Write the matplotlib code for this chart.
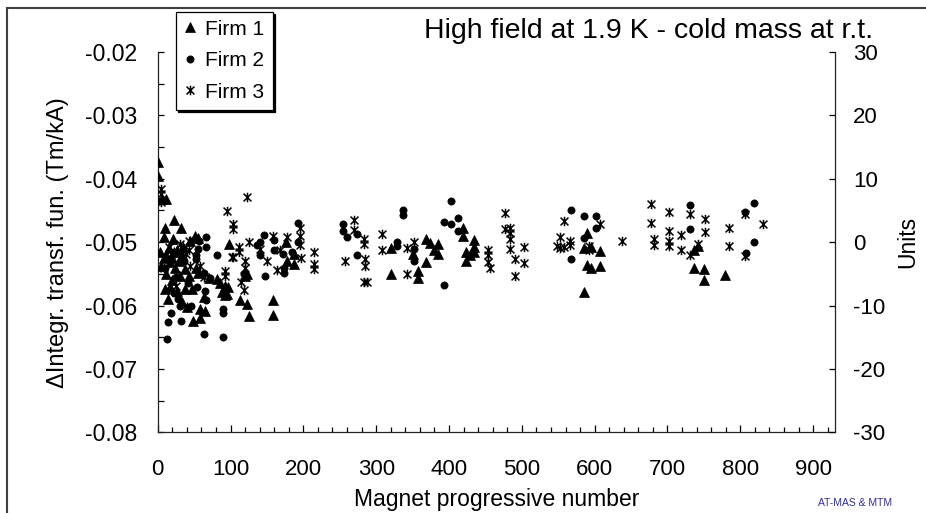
import numpy as np
import matplotlib
matplotlib.use("Agg")
import matplotlib.pyplot as plt
from matplotlib.path import Path
from matplotlib.lines import Line2D
from matplotlib.ticker import MultipleLocator

plt.rcParams['font.family'] = ['Liberation Sans', 'DejaVu Sans']
plt.rcParams['axes.unicode_minus'] = False

# magnet number / deviation in units (1 unit = 0.001 Tm/kA, 0 = -0.05)
firm1_num = [1, 1, 6, 11, 10, 22, 32, 9, 21, 51, 56, 45, 98,
             3, 5, 8, 12, 15, 17, 20, 22, 24, 27, 29, 33, 35, 38, 12, 30, 43, 52, 56, 70, 81, 93,
             10, 17, 26, 38, 47, 63, 88, 95, 40, 58, 65, 49, 58, 93, 20, 14, 33, 86, 97,
             120, 122, 176, 187, 187, 178, 113, 123, 158, 125, 158,
             320, 320, 351, 357, 357, 369, 374, 385, 380, 385, 369, 419, 419, 434, 434, 434, 424, 424, 429,
             589, 586, 595, 608, 590, 595, 608, 586,
             736, 742, 736, 750, 750, 779]
firm1_units = [12.6, 10.5, 6.8, 6.8, 2.3, 3.5, 2.2, 0.8, 0.5, 0.9, 0.6, 0.2, -0.3,
               -1.5, -3.7, -2.5, -2.0, -1.0, -3.2, -2.5, -1.5, -4.0, -1.3, -3.0, -2.1, -0.8, -4.2, -5.0, -5.3, -5.3, -4.0, -4.8, -5.6, -5.8, -6.9,
               -7.4, -7.1, -7.7, -7.4, -7.4, -8.7, -7.9, -8.2, -10.3, -10.6, -10.8, -12.4, -11.9, -8.4, -6.0, -9.0, -9.5, -6.5, -7.0,
               -5.3, -5.0, 0.0, -1.9, -3.4, -2.9, -9.1, -9.7, -9.2, -11.6, -11.5,
               -1.0, -5.0, -1.9, -4.5, -5.7, 0.5, -0.1, -0.3, -1.3, -1.9, -3.1, 2.2, 0.9, 0.4, -0.7, -1.6, -1.6, -2.9, -2.0,
               1.45, -1.0, -0.8, -1.45, -3.6, -4.1, -3.7, -7.8,
               -1.2, -0.55, -4.1, -4.2, -6.0, -5.2]

firm2_num = [3, 57, 66, 66, 55, 82, 52, 52, 63, 72, 54, 65, 67, 31, 46, 90, 90, 18, 14, 32, 13, 63, 90,
             28, 22, 41, 10, 36, 25,
             146, 141, 141, 147, 160, 160, 172, 173, 174, 193, 193, 185, 254, 255, 260, 274, 274, 118, 136,
             337, 337, 329, 329, 352, 352, 403, 393, 403, 412, 412, 393,
             568, 585, 602, 602, 585, 568,
             731, 731, 819, 807, 819, 808]
firm2_units = [6.5, 0.2, 0.8, -0.7, -1.1, -2.0, -2.1, -2.7, -4.8, -5.7, -7.1, -7.7, -9.2, -10.0, -10.0, -10.6, -11.1, -11.1, -12.6, -12.4, -15.3, -14.5, -15.0,
               -9.0, -8.0, -6.5, -4.0, -3.0, -5.5,
               1.2, 0.0, -2.1, -5.3, 0.35, -1.3, -1.8, -4.1, -4.9, 3.0, 0.0, -1.6, 2.9, 1.8, 0.8, 1.3, -2.0, -5.0, -0.5,
               5.0, 4.3, 0.1, -0.55, -1.1, -2.9, 6.5, 3.2, 2.9, 3.8, 1.8, -6.8,
               5.0, 4.2, 4.1, 2.3, 0.6, -2.7,
               5.9, 2.1, 6.2, 4.8, 0.0, -1.7]

firm3_num = [4, 4, 4, 95, 103, 103, 43, 18, 43, 31, 45, 58, 93, 93, 102, 25, 15, 8, 39, 63,
             123, 111, 111, 126, 104, 120, 120, 118, 114, 118, 159, 140, 150, 164, 177, 168, 195, 195, 195, 197,
             215, 214, 214, 269, 269, 257, 283, 283, 285, 285, 283, 288,
             308, 308, 342, 342, 352, 454, 454, 454, 456, 477, 477, 484, 484, 484, 484, 491, 491, 503, 503,
             558, 552, 548, 553, 558, 566, 566, 592, 592, 607, 637, 677, 677, 681, 681, 702, 702, 702, 702,
             731, 751, 719, 751, 719, 742, 731, 785, 785, 806, 831, 806]
firm3_units = [8.4, 7.6, 6.3, 4.9, 2.9, 2.0, 0.2, -1.9, -1.3, -0.3, -3.7, -3.7, -4.5, -5.3, -2.4, -6.9, -0.8, -4.0, -1.8, -5.5,
               7.1, -0.8, -1.6, 0.0, -2.3, -2.9, -4.0, -5.4, -6.3, -7.5, 0.9, -1.1, -2.9, -4.4, 0.8, -1.3, 2.3, 1.0, -0.5, -2.5,
               -1.6, -3.4, -4.2, 3.5, 1.9, -3.0, 0.5, -0.3, -2.7, -3.7, -6.3, -6.3,
               1.3, -1.2, -1.0, -5.0, 0.0, -1.2, -2.1, -3.1, -4.0, 4.6, 2.1, 2.3, 1.5, 0.5, -1.1, -2.6, -5.3, -0.8, -3.3,
               3.4, 0.8, -0.6, -1.0, -0.7, 0.2, -0.45, -0.55, -1.2, 2.9, 0.2, 6.0, 3.0, 0.5, -0.45, 4.8, 1.8, 0.2, -0.55,
               4.45, 3.65, 1.1, 1.55, -1.2, -0.3, -2.0, 2.2, -0.65, 4.45, 2.8, -2.2]

W, H = 926, 513
star = Path([(-1, -1), (1, 1), (-1, 1), (1, -1), (0, -1.2), (0, 1.2)],
            [Path.MOVETO, Path.LINETO, Path.MOVETO, Path.LINETO, Path.MOVETO, Path.LINETO])

fig = plt.figure(figsize=(W / 100, H / 100), dpi=100)
x0, x1, y0, y1 = 157.7, 835, 52, 432.3
ax = fig.add_axes([x0 / W, 1 - y1 / H, (x1 - x0) / W, (y1 - y0) / H])
ax.set_xlim(0, 930)
ax.set_ylim(-0.08, -0.02)
ax2 = ax.twinx()
ax2.set_ylim(-30, 30)

for a in (ax, ax2):
    a.spines['top'].set_visible(False)
    for s in a.spines.values():
        s.set_linewidth(0.9)
        s.set_color('#222222')
ax.spines['right'].set_visible(False)
ax2.spines['left'].set_visible(False)
ax2.spines['bottom'].set_visible(False)

ax.xaxis.set_major_locator(MultipleLocator(100))
ax.xaxis.set_minor_locator(MultipleLocator(20))
ax.yaxis.set_major_locator(MultipleLocator(0.01))
ax.yaxis.set_minor_locator(MultipleLocator(0.005))
ax2.yaxis.set_major_locator(MultipleLocator(10))
ax.tick_params(axis='x', which='major', direction='in', length=5, width=0.9, labelsize=16, pad=19)
ax.tick_params(axis='x', which='minor', direction='in', length=3.5, width=0.9)
ax.tick_params(axis='y', which='both', direction='in', length=4.5, width=0.9, labelsize=16.5, pad=15)
ax2.tick_params(axis='y', direction='in', length=4.5, width=0.9, labelsize=16, pad=13)
ax.yaxis.set_major_formatter(plt.FuncFormatter(lambda v, p: '%.2f' % v))

ax2.plot(firm1_num, firm1_units, ls='none', marker='^', ms=6.5, color='black', mec='black', mew=0.5, label='Firm 1')
ax2.plot(firm2_num, firm2_units, ls='none', marker='o', ms=5.2, color='black', mec='black', mew=0.5, label='Firm 2')
ax2.plot(firm3_num, firm3_units, ls='none', marker=star, ms=6.8, mfc='none', mec='black', mew=1.1, label='Firm 3')

ax.set_xlabel('Magnet progressive number', fontsize=16.5)
ax.xaxis.set_label_coords(0.5, -0.147)
ax.set_ylabel('ΔIntegr. transf. fun. (Tm/kA)', fontsize=17)
ax.yaxis.set_label_coords(-0.131, 0.5)
ax2.set_ylabel('Units', fontsize=16.5)
ax2.yaxis.set_label_coords(1.091, 0.5)

handles, labels = ax2.get_legend_handles_labels()
leg = fig.legend(handles, labels, loc='upper left', bbox_to_anchor=(175.7 / W, 1 - 11.7 / H),
                 bbox_transform=fig.transFigure, borderaxespad=0, fontsize=15, fancybox=False,
                 framealpha=1, edgecolor='black', handlelength=0.6, handletextpad=0.45,
                 labelspacing=0.6, borderpad=0.38, shadow={'color': 'black', 'alpha': 1})
leg.get_frame().set_linewidth(0.9)

fig.text(872.7 / W, 1 - 37.7 / H, 'High field at 1.9 K - cold mass at r.t.', fontsize=20.5,
         ha='right', va='baseline')
fig.text(855 / W, 1 - 506 / H, 'AT-MAS & MTM', fontsize=7.5, color='#30309a',
         family=['Liberation Sans Narrow', 'Liberation Sans', 'DejaVu Sans'], ha='center', va='baseline')

fig.add_artist(Line2D([7 / W, 7 / W], [0, 1 - 8 / H], transform=fig.transFigure, color='#404040', lw=1.5))
fig.add_artist(Line2D([7 / W, 1], [1 - 8 / H, 1 - 8 / H], transform=fig.transFigure, color='#404040', lw=1.5))

fig.savefig('out.png', dpi=100)
